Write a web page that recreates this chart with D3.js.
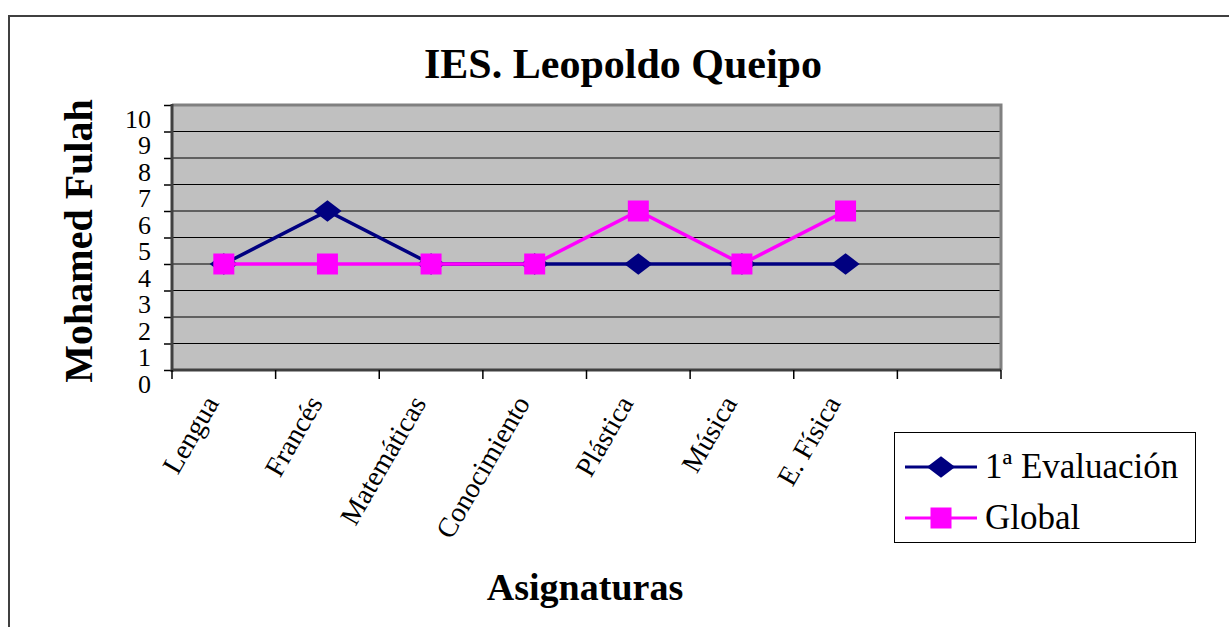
<!DOCTYPE html>
<html>
<head>
<meta charset="utf-8">
<script src="https://cdn.jsdelivr.net/npm/d3@7"></script>
<style>
  body { margin: 0; background: #fff; }
  svg { display: block; }
  svg text { font-family: "Liberation Serif", "Times New Roman", serif; }
</style>
</head>
<body>
<svg width="1229" height="627"></svg>
<script>
const categories = ["Lengua", "Francés", "Matemáticas", "Conocimiento", "Plástica", "Música", "E. Física"];
const slots = 8; // one empty slot after E. Física
const evaluacion = [4, 6, 4, 4, 4, 4, 4];
const global = [4, 4, 4, 4, 6, 4, 6];
const yTicks = [0, 1, 2, 3, 4, 5, 6, 7, 8, 9, 10];

const svg = d3.select("svg");
const plot = {left: 172, right: 1001, top: 105, bottom: 370};
const serif = "Liberation Serif";

// outer frame (only top and left edges are inside the picture)
svg.append("path")
    .attr("d", "M9,632 L9,16 L1240,16")
    .attr("fill", "none")
    .attr("stroke", "#404040")
    .attr("stroke-width", 2);

const x = d3.scaleBand()
    .domain(d3.range(slots))
    .range([plot.left, plot.right])
    .padding(0);
const y = d3.scaleLinear().domain([0, 10]).range([plot.bottom, plot.top]);
const cx = i => x(i) + x.bandwidth() / 2;

// plot background
svg.append("rect")
    .attr("x", plot.left).attr("y", plot.top)
    .attr("width", plot.right - plot.left).attr("height", plot.bottom - plot.top)
    .attr("fill", "#c0c0c0");

// gridlines
svg.append("g").selectAll("line")
    .data(yTicks.slice(1, -1))
    .enter().append("line")
    .attr("x1", plot.left).attr("x2", plot.right)
    .attr("y1", d => y(d)).attr("y2", d => y(d))
    .attr("stroke", "#000").attr("stroke-width", 1);

// plot border top/right
svg.append("path")
    .attr("d", `M${plot.left},${plot.top} L${plot.right},${plot.top} L${plot.right},${plot.bottom}`)
    .attr("fill", "none").attr("stroke", "#808080").attr("stroke-width", 3);

// y axis
const yAxis = svg.append("g")
    .attr("transform", `translate(${plot.left},0)`)
    .call(d3.axisLeft(y).tickValues(yTicks).tickSize(8).tickFormat(d3.format("d")));
yAxis.select(".domain").remove();
yAxis.selectAll(".tick line").attr("stroke", "#000").attr("stroke-width", 1.5);
yAxis.selectAll(".tick text")
    .attr("x", -21)
    .attr("dy", "0.86em")
    .attr("font-family", serif)
    .attr("font-size", 26)
    .attr("fill", "#000");
svg.append("line")
    .attr("x1", plot.left).attr("x2", plot.left)
    .attr("y1", plot.top - 1).attr("y2", plot.bottom + 2)
    .attr("stroke", "#404040").attr("stroke-width", 3);

// x axis
const xAxis = svg.append("g")
    .attr("transform", `translate(0,${plot.bottom})`);
xAxis.append("line")
    .attr("x1", plot.left).attr("x2", plot.right)
    .attr("stroke", "#404040").attr("stroke-width", 3);
xAxis.selectAll(".tk")
    .data(d3.range(slots + 1))
    .enter().append("line")
    .attr("class", "tk")
    .attr("x1", d => plot.left + d * x.bandwidth())
    .attr("x2", d => plot.left + d * x.bandwidth())
    .attr("y1", 0).attr("y2", 9)
    .attr("stroke", "#000").attr("stroke-width", 1.5);
xAxis.selectAll(".lbl")
    .data(categories)
    .enter().append("text")
    .attr("class", "lbl")
    .attr("text-anchor", "end")
    .attr("font-family", serif)
    .attr("font-size", 28)
    .attr("transform", (d, i) => `translate(${cx(i) - 4},${33}) rotate(-60)`)
    .text(d => d);

// series
const line = d3.line().x((d, i) => cx(i)).y(d => y(d));

svg.append("path")
    .datum(evaluacion)
    .attr("fill", "none").attr("stroke", "#000080").attr("stroke-width", 3.5)
    .attr("d", line);
svg.append("g").selectAll("path")
    .data(evaluacion)
    .enter().append("path")
    .attr("d", d3.symbol(d3.symbolDiamond2, 300))
    .attr("transform", (d, i) => `translate(${cx(i)},${y(d)}) scale(1.3,1)`)
    .attr("fill", "#000080");

svg.append("path")
    .datum(global)
    .attr("fill", "none").attr("stroke", "#ff00ff").attr("stroke-width", 3.5)
    .attr("d", line);
svg.append("g").selectAll("rect")
    .data(global)
    .enter().append("rect")
    .attr("x", (d, i) => cx(i) - 10.5).attr("y", d => y(d) - 10.5)
    .attr("width", 21).attr("height", 21)
    .attr("fill", "#ff00ff");

// titles
svg.append("text")
    .attr("x", 623).attr("y", 78)
    .attr("text-anchor", "middle")
    .attr("font-family", serif)
    .attr("font-size", 42).attr("font-weight", "bold")
    .text("IES. Leopoldo Queipo");
svg.append("text")
    .attr("transform", "translate(92,241) rotate(-90)")
    .attr("text-anchor", "middle")
    .attr("font-family", serif)
    .attr("font-size", 40).attr("font-weight", "bold")
    .text("Mohamed Fulah");
svg.append("text")
    .attr("x", 585).attr("y", 600)
    .attr("text-anchor", "middle")
    .attr("font-family", serif)
    .attr("font-size", 38).attr("font-weight", "bold")
    .text("Asignaturas");

// legend
const legend = svg.append("g");
legend.append("rect")
    .attr("x", 894.5).attr("y", 432.5).attr("width", 301).attr("height", 110)
    .attr("fill", "#fff").attr("stroke", "#000").attr("stroke-width", 1);
const legendItems = [
    {name: "1ª Evaluación", color: "#000080", shape: "diamond"},
    {name: "Global", color: "#ff00ff", shape: "square"}
];
legendItems.forEach(function(item, k) {
    const ly = 467 + k * 51;
    legend.append("line")
        .attr("x1", 905).attr("x2", 977).attr("y1", ly).attr("y2", ly)
        .attr("stroke", item.color).attr("stroke-width", 3);
    if (item.shape === "diamond") {
        legend.append("path")
            .attr("d", d3.symbol(d3.symbolDiamond2, 300))
            .attr("transform", `translate(941,${ly}) scale(1.3,1)`)
            .attr("fill", item.color);
    } else {
        legend.append("rect")
            .attr("x", 930.5).attr("y", ly - 10.5).attr("width", 21).attr("height", 21)
            .attr("fill", item.color);
    }
    legend.append("text")
        .attr("x", 985).attr("y", ly + 11)
        .attr("font-family", serif)
        .attr("font-size", 35)
        .text(item.name);
});
</script>
</body>
</html>
